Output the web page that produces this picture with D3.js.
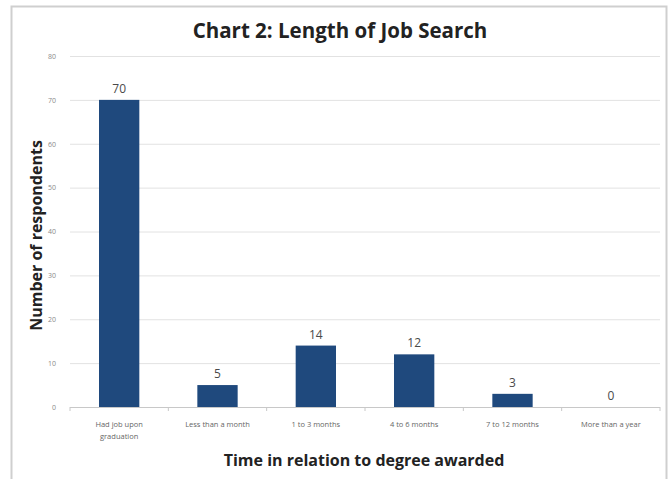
<!DOCTYPE html>
<html>
<head>
<meta charset="utf-8">
<script src="https://cdn.jsdelivr.net/npm/d3@7"></script>
<style>
  html, body { margin: 0; padding: 0; background: #ffffff; }
  svg { display: block; }
</style>
</head>
<body>
<svg id="chart" width="670" height="479"></svg>
<script>
// Survey responses: how long graduates took to find a job
const categories = [
  ["Had job upon", "graduation"],
  ["Less than a month"],
  ["1 to 3 months"],
  ["4 to 6 months"],
  ["7 to 12 months"],
  ["More than a year"]
];
const respondents = [70, 5, 14, 12, 3, 0];
const yTicks = [0, 10, 20, 30, 40, 50, 60, 70, 80];

const svg = d3.select("#chart");
const W = 670, H = 479;
const margin = { top: 56, right: 10, bottom: 72, left: 70 };
const innerW = W - margin.left - margin.right;
const innerH = H - margin.top - margin.bottom;

// outer chart frame
svg.append("rect")
  .attr("x", 11.5).attr("y", 6.5)
  .attr("width", 655).attr("height", 480)
  .attr("fill", "#ffffff")
  .attr("stroke", "#cfcfcf").attr("stroke-width", 2);

const g = svg.append("g").attr("transform", `translate(${margin.left},${margin.top})`);

const labels = categories.map(d => d.join(" "));
const x = d3.scaleBand().domain(labels).range([0, innerW]).paddingInner(0.59).paddingOuter(0.295);
const y = d3.scaleLinear().domain([0, 80]).range([innerH, 0]);

// horizontal gridlines
g.append("g")
  .selectAll("line")
  .data(yTicks.filter(t => t > 0))
  .join("line")
  .attr("x1", 0).attr("x2", innerW)
  .attr("y1", d => y(d) + 0.5).attr("y2", d => y(d) + 0.5)
  .attr("stroke", "#e2e2e2").attr("stroke-width", 1);

// y axis tick labels
const yAxis = g.append("g").call(d3.axisLeft(y).tickValues(yTicks).tickSize(0).tickPadding(14));
yAxis.select(".domain").remove();
yAxis.selectAll("text")
  .attr("font-family", "Open Sans, sans-serif")
  .attr("font-size", 7)
  .attr("fill", "#8a8a8a");

// bars
g.selectAll("rect.bar")
  .data(respondents)
  .join("rect")
  .attr("class", "bar")
  .attr("x", (d, i) => x(labels[i]))
  .attr("y", d => y(d))
  .attr("width", x.bandwidth())
  .attr("height", d => innerH - y(d))
  .attr("fill", "#1f497d");

// value labels
g.selectAll("text.val")
  .data(respondents)
  .join("text")
  .attr("class", "val")
  .attr("x", (d, i) => x(labels[i]) + x.bandwidth() / 2)
  .attr("y", d => y(d) - 7)
  .attr("text-anchor", "middle")
  .attr("font-family", "Open Sans, sans-serif")
  .attr("font-size", 12)
  .attr("fill", "#4a4a4a")
  .text(d => d);

// x axis baseline with tick marks between categories
const xAxisG = g.append("g").attr("transform", `translate(0,${innerH})`);
xAxisG.append("line")
  .attr("x1", 0).attr("x2", innerW)
  .attr("y1", 0.5).attr("y2", 0.5)
  .attr("stroke", "#c8c8c8");
const step = x.step();
xAxisG.selectAll("line.tick")
  .data(d3.range(categories.length + 1))
  .join("line")
  .attr("class", "tick")
  .attr("x1", i => i * step).attr("x2", i => i * step)
  .attr("y1", 0).attr("y2", 4)
  .attr("stroke", "#c8c8c8");

// category labels
const catText = xAxisG.selectAll("text.cat")
  .data(categories)
  .join("text")
  .attr("class", "cat")
  .attr("x", (d, i) => x(labels[i]) + x.bandwidth() / 2)
  .attr("y", 20)
  .attr("text-anchor", "middle")
  .attr("font-family", "Open Sans, sans-serif")
  .attr("font-size", 7.5)
  .attr("fill", "#666666");
catText.selectAll("tspan")
  .data(d => d)
  .join("tspan")
  .attr("x", function () { return this.parentNode.getAttribute("x"); })
  .attr("dy", (d, i) => i === 0 ? 0 : 12)
  .text(d => d);

// title
svg.append("text")
  .attr("x", 340).attr("y", 38)
  .attr("text-anchor", "middle")
  .attr("font-family", "Open Sans, sans-serif")
  .attr("font-weight", "bold")
  .attr("font-size", 20.5)
  .attr("fill", "#222222")
  .text("Chart 2: Length of Job Search");

// axis titles
svg.append("text")
  .attr("x", 364).attr("y", 466)
  .attr("text-anchor", "middle")
  .attr("font-family", "Open Sans, sans-serif")
  .attr("font-weight", "bold")
  .attr("font-size", 16)
  .attr("fill", "#222222")
  .text("Time in relation to degree awarded");

svg.append("text")
  .attr("transform", `translate(42,${margin.top + innerH / 2 + 4}) rotate(-90)`)
  .attr("text-anchor", "middle")
  .attr("font-family", "Open Sans, sans-serif")
  .attr("font-weight", "bold")
  .attr("font-size", 16)
  .attr("fill", "#222222")
  .text("Number of respondents");
</script>
</body>
</html>
